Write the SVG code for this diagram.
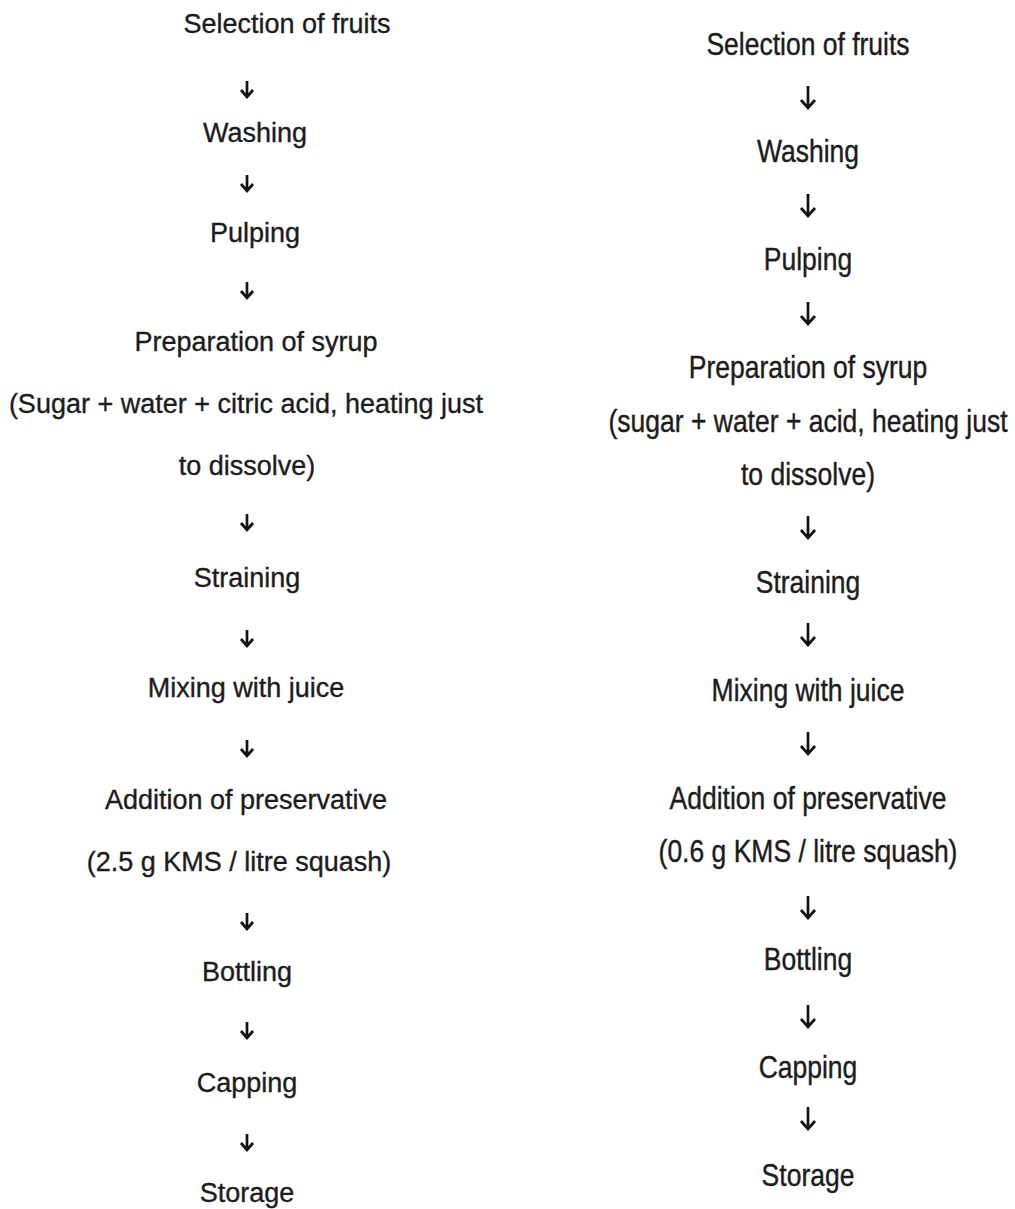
<svg xmlns="http://www.w3.org/2000/svg" width="1015" height="1209" viewBox="0 0 1015 1209">
<style>
.t{font-family:"Liberation Sans",Arial,sans-serif;font-size:27px;fill:#1c1c1c;stroke:#1c1c1c;stroke-width:0.35;text-anchor:middle}
.r{font-size:26.5px}
.a{stroke:#111;stroke-width:2.7;fill:none;stroke-linejoin:miter}
</style>
<defs>
<g id="al"><path d="M0,-8V7M-6,1L0,8L6,1"/></g>
<g id="ar"><path d="M0,-11V10M-7,3L0,11L7,3"/></g>
</defs>
<rect width="1015" height="1209" fill="#fff"/>
<g id="left">
<g id="l-selection"><text class="t" x="287" y="33">Selection of fruits</text></g>
<g id="l-washing"><text class="t" x="255" y="142">Washing</text></g>
<g id="l-pulping"><text class="t" x="255" y="242">Pulping</text></g>
<g id="l-syrup"><text class="t" x="256" y="351">Preparation of syrup</text><text class="t" x="246" y="413">(Sugar + water + citric acid, heating just</text><text class="t" x="247" y="475">to dissolve)</text></g>
<g id="l-straining"><text class="t" x="247" y="587">Straining</text></g>
<g id="l-mixing"><text class="t" x="246" y="697">Mixing with juice</text></g>
<g id="l-preservative"><text class="t" x="246" y="809">Addition of preservative</text><text class="t" x="239" y="871">(2.5 g KMS / litre squash)</text></g>
<g id="l-bottling"><text class="t" x="247" y="981">Bottling</text></g>
<g id="l-capping"><text class="t" x="247" y="1092">Capping</text></g>
<g id="l-storage"><text class="t" x="247" y="1202">Storage</text></g>
</g>
<g id="right">
<g id="r-selection"><text class="t r" transform="translate(808,54.5) scale(1,1.15)">Selection of fruits</text></g>
<g id="r-washing"><text class="t r" transform="translate(808,162.2) scale(1,1.15)">Washing</text></g>
<g id="r-pulping"><text class="t r" transform="translate(808,269.9) scale(1,1.15)">Pulping</text></g>
<g id="r-syrup"><text class="t r" transform="translate(808,377.7) scale(1,1.15)">Preparation of syrup</text><text class="t r" transform="translate(808,431.5) scale(1,1.15)">(sugar + water + acid, heating just</text><text class="t r" transform="translate(808,485.4) scale(1,1.15)">to dissolve)</text></g>
<g id="r-straining"><text class="t r" transform="translate(808,593.1) scale(1,1.15)">Straining</text></g>
<g id="r-mixing"><text class="t r" transform="translate(808,700.8) scale(1,1.15)">Mixing with juice</text></g>
<g id="r-preservative"><text class="t r" transform="translate(808,808.5) scale(1,1.15)">Addition of preservative</text><text class="t r" transform="translate(808,862.4) scale(1,1.15)">(0.6 g KMS / litre squash)</text></g>
<g id="r-bottling"><text class="t r" transform="translate(808,970.1) scale(1,1.15)">Bottling</text></g>
<g id="r-capping"><text class="t r" transform="translate(808,1077.8) scale(1,1.15)">Capping</text></g>
<g id="r-storage"><text class="t r" transform="translate(808,1185.6) scale(1,1.15)">Storage</text></g>
</g>
<g id="connectors" class="a">
<use href="#al" x="247" y="89"/>
<use href="#al" x="247" y="183"/>
<use href="#al" x="247" y="290"/>
<use href="#al" x="247" y="522"/>
<use href="#al" x="247" y="638"/>
<use href="#al" x="247" y="748"/>
<use href="#al" x="247" y="921"/>
<use href="#al" x="247" y="1030"/>
<use href="#al" x="247" y="1142"/>
<use href="#ar" x="808" y="97"/>
<use href="#ar" x="808" y="205"/>
<use href="#ar" x="808" y="313"/>
<use href="#ar" x="808" y="527"/>
<use href="#ar" x="808" y="634"/>
<use href="#ar" x="808" y="743"/>
<use href="#ar" x="808" y="907"/>
<use href="#ar" x="808" y="1016"/>
<use href="#ar" x="808" y="1118"/>
</g>
</svg>
